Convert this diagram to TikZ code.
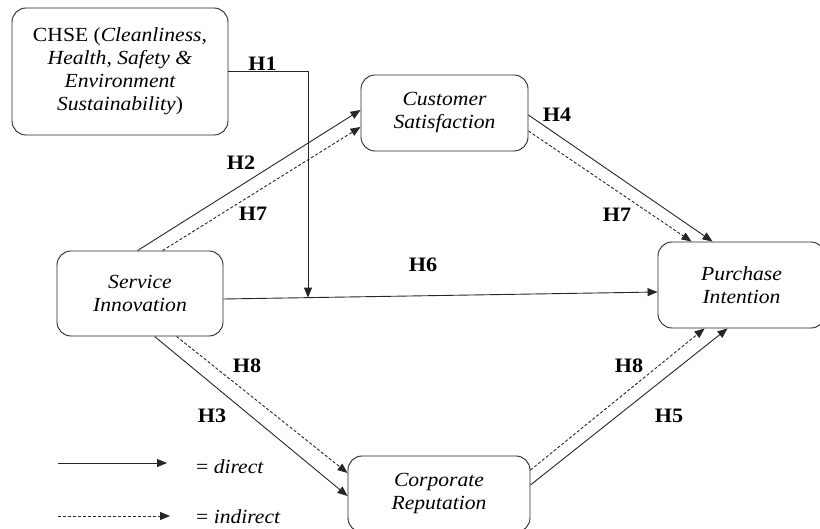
\documentclass[tikz,border=0pt]{standalone}
\usepackage{fontspec}
\setmainfont{Liberation Serif}[FakeStretch=1.08]
\usetikzlibrary{arrows.meta,calc}
\begin{document}
\begin{tikzpicture}[x=1pt,y=-1pt,
  box/.style={draw=black!85, line width=0.9pt, rounded corners=14pt, align=center,
    font=\fontsize{20}{23}\selectfont\itshape, inner sep=0pt},
  hlab/.style={font=\fontsize{20.5}{23}\selectfont\bfseries, inner sep=0pt},
  direct/.style={draw=black!85, line width=0.9pt, -{Triangle[length=10pt,width=8pt]}},
  indirect/.style={draw=black!85, line width=0.9pt, dash pattern=on 3pt off 2pt, -{Triangle[length=10pt,width=8pt]}},
  legtext/.style={font=\fontsize{20}{23}\selectfont, inner sep=0pt, anchor=west}]
\useasboundingbox (0,0) rectangle (820,529);

% boxes
\node[box, minimum width=216pt, minimum height=127pt] (chse) at (120,71.5)
  {\upshape CHSE (\itshape Cleanliness,\\ Health, Safety \&\\ Environment\\ Sustainability\upshape)};
\node[box, minimum width=167pt, minimum height=76pt] (cs) at (444.5,113) {Customer\\ Satisfaction};
\node[box, minimum width=166pt, minimum height=85pt] (si) at (140,293.5) {Service\\ Innovation};
\node[box, minimum width=167pt, minimum height=86pt] (pi) at (741.5,285) {Purchase\\ Intention};
\node[box, minimum width=182pt, minimum height=76pt] (cr) at (439,494) {Corporate\\ Reputation};

% connectors
\draw[direct] ([xshift=81pt]si.north west) -- ([yshift=3pt]cs.west);
\draw[indirect] ([xshift=106pt]si.north west) -- ([yshift=-14pt]cs.west);
\draw[direct] ([yshift=-2pt]cs.east) -- ([xshift=55pt]pi.north west);
\draw[indirect] ([yshift=-18pt]cs.east) -- ([xshift=34pt]pi.north west);
\draw[direct] ([yshift=-5.5pt]si.east) -- ([yshift=-7pt]pi.west);
\coordinate (h1tip) at (308,297.6);
\draw[direct] (chse.east) -| (h1tip);
\draw[direct] ([xshift=98pt]si.south west) -- ([yshift=-2pt]cr.west);
\draw[indirect] ([xshift=120pt]si.south west) -- ([yshift=21pt]cr.west);
\draw[direct] ([yshift=9pt]cr.east) -- ([xshift=70pt]pi.south west);
\draw[indirect] ([yshift=24pt]cr.east) -- ([xshift=47pt]pi.south west);

% labels
\node[hlab, anchor=base] (lh1) at (262.5,71) {H1};
\node[hlab] (lh2) at (241,163) {H2};
\node[hlab] (lh7a) at (253,214) {H7};
\node[hlab] (lh4) at (557,115) {H4};
\node[hlab] (lh7b) at (617,215) {H7};
\node[hlab] (lh6) at (423,265) {H6};
\node[hlab] (lh8a) at (247,366) {H8};
\node[hlab] (lh3) at (212,416) {H3};
\node[hlab] (lh8b) at (629,366) {H8};
\node[hlab] (lh5) at (669,416) {H5};

% legend
\coordinate (la1) at (58,463);
\coordinate (la2) at (167,463);
\coordinate (lb1) at (58,516);
\coordinate (lb2) at (170,516);
\draw[direct] (la1) -- (la2);
\draw[indirect] (lb1) -- (lb2);
\node[legtext] (ltd) at (196,467) {= \itshape direct};
\node[legtext] (lti) at (196,517) {= \itshape indirect};
\end{tikzpicture}
\end{document}
